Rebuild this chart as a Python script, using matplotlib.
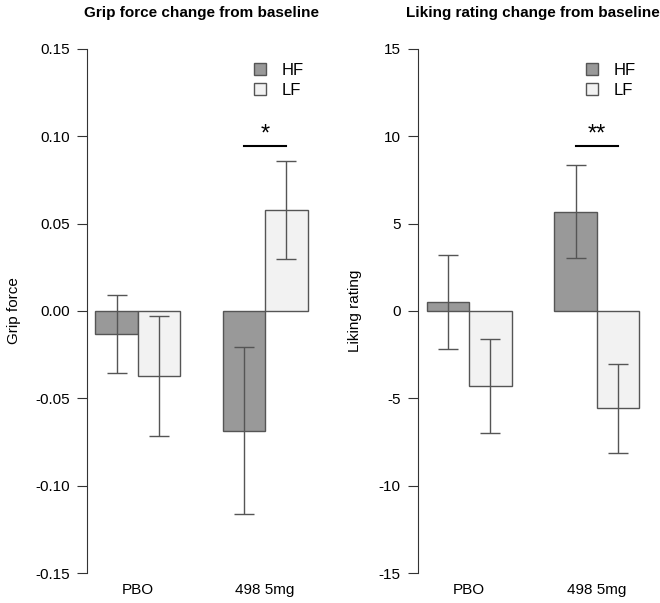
import numpy as np
import matplotlib
matplotlib.use("Agg")
import matplotlib.pyplot as plt
from matplotlib.patches import Patch
import matplotlib.transforms as mtransforms

plt.rcParams['font.family'] = ['Liberation Sans', 'DejaVu Sans']

# data
groups = ['PBO', '498 5mg']
grip_hf = [-0.0132, -0.0686]
grip_hf_err = [0.0225, 0.0478]
grip_lf = [-0.0374, 0.0578]
grip_lf_err = [0.0344, 0.0278]
liking_hf = [0.5, 5.68]
liking_hf_err = [2.7, 2.67]
liking_lf = [-4.3, -5.57]
liking_lf_err = [2.7, 2.56]
sig_marks = ['*', '**']

hf_col = '#999999'
lf_col = '#f2f2f2'
edge = '#555555'
err_col = '#555555'

fig = plt.figure(figsize=(6.6, 6.03), dpi=100)
ax1 = fig.add_axes([87/660, 1-594/603, 229/660, 566/603])
ax2 = fig.add_axes([418/660, 1-594/603, 230/660, 566/603])

x_hf = np.array([1.5, 4.5])
x_lf = x_hf + 1
centers = x_hf + 0.5


def panel(ax, hf, hf_err, lf, lf_err, ticks, ticklabels, title, ylab, ylab_x, sig, sig_y):
    ax.bar(x_hf, hf, width=1, color=hf_col, edgecolor=edge, linewidth=1)
    ax.bar(x_lf, lf, width=1, color=lf_col, edgecolor=edge, linewidth=1)
    ax.errorbar(x_hf, hf, yerr=hf_err, fmt='none', ecolor=err_col, elinewidth=1, capsize=7.5, capthick=1)
    ax.errorbar(x_lf, lf, yerr=lf_err, fmt='none', ecolor=err_col, elinewidth=1, capsize=7.5, capthick=1)
    ax.set_xlim(0.8, 6.2)
    pad = (ticks[-1] - ticks[0]) * 0.04
    ax.set_ylim(ticks[0] - pad, ticks[-1] + pad)
    ax.set_yticks(ticks)
    ax.set_yticklabels(ticklabels)
    for s in ['top', 'right', 'bottom']:
        ax.spines[s].set_visible(False)
    ax.spines['left'].set_bounds(ticks[0], ticks[-1])
    ax.spines['left'].set_color('#333333')
    ax.tick_params(axis='y', length=7, color='#333333', labelsize=11, pad=5.5)
    ax.set_xticks([])
    trans = mtransforms.blended_transform_factory(ax.transData, ax.transAxes)
    for c, g in zip(centers, groups):
        ax.text(c, 0.007, g, transform=trans, ha='center', va='center', fontsize=11)
    ax.set_title(title, fontsize=11, fontweight='bold', pad=8)
    ax.set_ylabel(ylab, fontsize=11)
    ax.yaxis.set_label_coords(ylab_x, 0.5)
    # significance bracket
    ax.plot([x_hf[1], x_lf[1]], [sig_y, sig_y], color='black', lw=1.5)
    ax.text(centers[1], sig_y, sig, ha='center', va='bottom', fontsize=17)
    handles = [Patch(facecolor=hf_col, edgecolor=edge, label='HF'),
               Patch(facecolor=lf_col, edgecolor=edge, label='LF')]
    ax.legend(handles=handles, loc='upper left', bbox_to_anchor=(0.7, 0.95), frameon=False,
              fontsize=12, handlelength=0.75, handleheight=0.75, handletextpad=0.9,
              labelspacing=0.3, borderaxespad=0)


panel(ax1, grip_hf, grip_hf_err, grip_lf, grip_lf_err,
      [-0.15, -0.10, -0.05, 0.0, 0.05, 0.10, 0.15],
      ['-0.15', '-0.10', '-0.05', '0.00', '0.05', '0.10', '0.15'],
      'Grip force change from baseline', 'Grip force', -0.29, sig_marks[0], 0.0945)
panel(ax2, liking_hf, liking_hf_err, liking_lf, liking_lf_err,
      [-15, -10, -5, 0, 5, 10, 15],
      ['-15', '-10', '-5', '0', '5', '10', '15'],
      'Liking rating change from baseline', 'Liking rating', -0.245, sig_marks[1], 9.45)

fig.savefig('out.png', dpi=100)
